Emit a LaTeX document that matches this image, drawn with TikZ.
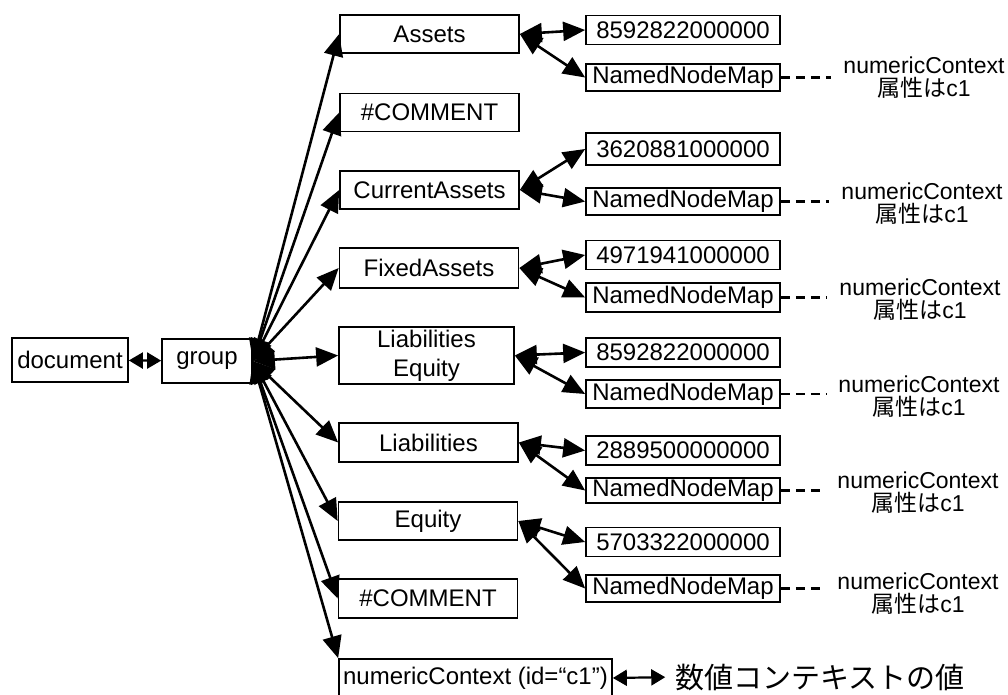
\documentclass[tikz,border=0pt]{standalone}
\usepackage{fontspec}
\setmainfont{Liberation Sans}
\newfontfamily\cjk{Noto Sans CJK JP}
\usetikzlibrary{arrows.meta}

\begin{document}
\begin{tikzpicture}[x=1pt,y=-1pt,
  box/.style={draw, line width=1.7pt, inner sep=0pt, align=center,
    font=\fontsize{24}{26}\selectfont},
  node box/.style={box, minimum width=179pt, minimum height=38pt},
  val box/.style={box, minimum width=194pt, minimum height=29pt},
  map box/.style={box, minimum width=194pt, minimum height=27pt},
  note/.style={inner sep=0pt, align=center, font=\fontsize{23}{23}\selectfont},
  fan/.style={line width=2.6pt,
    {Triangle[length=22pt,width=19pt]}-{Triangle[length=22pt,width=19pt]}},
  link/.style={line width=2.6pt,
    {Triangle[length=22pt,width=19pt]}-{Triangle[length=22pt,width=19pt]}},
  small link/.style={line width=2.2pt,
    {Triangle[length=14pt,width=16pt]}-{Triangle[length=14pt,width=16pt]}},
  attr/.style={line width=2.2pt, dash pattern=on 9pt off 6pt, shorten >=12pt}
]
\useasboundingbox (0,0) rectangle (1008,695);

% root and group
\node[box, minimum width=116pt, minimum height=44pt] (document) at (70,360) {document};
\node[box, minimum width=90pt, minimum height=44pt] (group) at (207,361) {group};

% children of group
\node[node box] (assets)   at (429.5,34)  {Assets};
\node[node box] (comment1) at (429.5,112.5) {\#COMMENT};
\node[node box] (current)  at (429.5,190) {CurrentAssets};
\node[node box, minimum height=40pt] (fixed) at (429,268) {FixedAssets};
\node[box, minimum width=175pt, minimum height=57pt] (le) at (426.5,355.5) {Liabilities\\[3pt]Equity};
\node[node box, minimum height=39pt] (liab) at (428.5,442.5) {Liabilities};
\node[node box] (equity)   at (428,521)  {Equity};
\node[node box, minimum height=39pt] (comment2) at (428,598.5) {\#COMMENT};
\node[box, minimum width=273pt, minimum height=38pt] (nc) at (475.5,678) {numericContext (id=“c1”)};

% values and attribute maps
\node[val box] (v1) at (683,30)    {8592822000000};
\node[map box] (m1) at (683,77.5)  {NamedNodeMap};
\node[val box, minimum height=32pt] (v2) at (683,149) {3620881000000};
\node[map box] (m2) at (683,201.5) {NamedNodeMap};
\node[val box] (v3) at (683,255)   {4971941000000};
\node[map box, minimum height=29pt] (m3) at (683,297.5) {NamedNodeMap};
\node[val box] (v4) at (683,352.5) {8592822000000};
\node[map box, minimum height=28pt] (m4) at (683,394) {NamedNodeMap};
\node[val box] (v5) at (683,450.5) {2889500000000};
\node[map box, minimum height=25pt] (m5) at (683,490.5) {NamedNodeMap};
\node[val box] (v6) at (683,542)   {5703322000000};
\node[map box] (m6) at (683,588.5) {NamedNodeMap};

% attribute notes
\node[note] (n1) at (924,78)  {numericContext\\{\cjk 属性は}c1};
\node[note] (n2) at (922,204) {numericContext\\{\cjk 属性は}c1};
\node[note] (n3) at (920,300) {numericContext\\{\cjk 属性は}c1};
\node[note] (n4) at (919,397) {numericContext\\{\cjk 属性は}c1};
\node[note] (n5) at (918,493) {numericContext\\{\cjk 属性は}c1};
\node[note] (n6) at (918,594) {numericContext\\{\cjk 属性は}c1};
\node[inner sep=0pt, font=\cjk\fontsize{29}{29}\selectfont] (jp) at (820,677) {数値コンテキストの値};

% connectors
\draw[small link] (document) -- (group);
\foreach \t in {assets,comment1,current,fixed,le,liab,equity,comment2}
  \draw[fan] (group.east) -- (\t.west);
\draw[fan] (group.east) -- (nc.north west);

\foreach \p/\v/\m in {assets/v1/m1,current/v2/m2,fixed/v3/m3,le/v4/m4,liab/v5/m5,equity/v6/m6} {
  \draw[link] (\p.east) -- (\v.west);
  \draw[link] (\p.east) -- (\m.west);
}

\foreach \m/\n in {m1/n1,m2/n2,m3/n3,m4/n4,m5/n5,m6/n6}
  \draw[attr] (\m.east) -- (\m.east -| \n.west);

\draw[small link, shorten >=10pt] (nc.east) -- (jp.west);
\end{tikzpicture}
\end{document}
